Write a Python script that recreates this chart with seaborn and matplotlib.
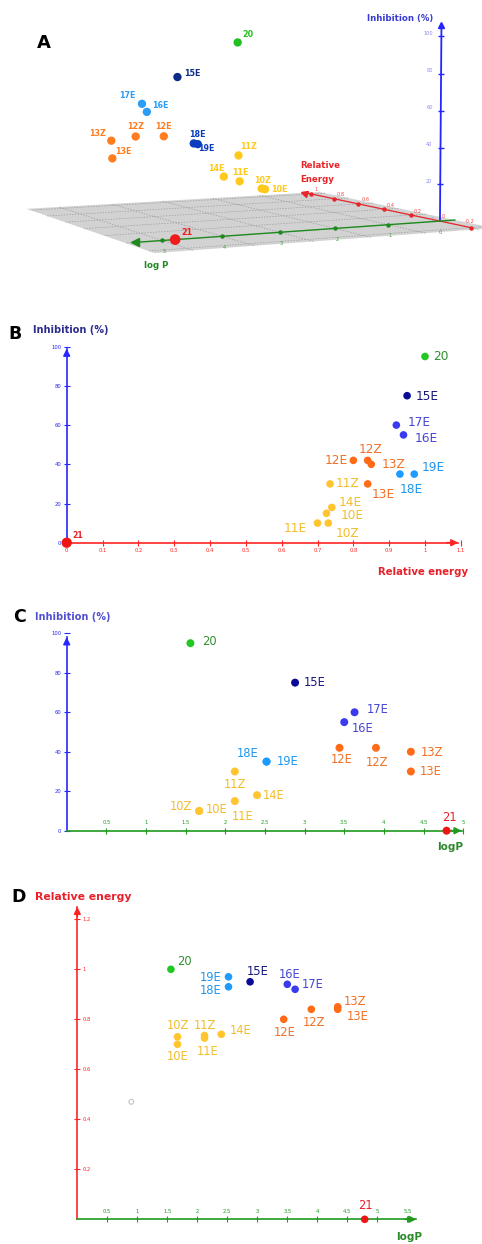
import numpy as np
import pandas as pd
import seaborn as sns
import matplotlib
matplotlib.use("Agg")
import matplotlib.pyplot as plt
from matplotlib.markers import MarkerStyle
from matplotlib.transforms import Affine2D
from mpl_toolkits.mplot3d import proj3d
from mpl_toolkits.mplot3d.art3d import Poly3DCollection

sns.set_theme(style="white")
plt.rcParams["font.family"] = ["DejaVu Sans"]

W, H = 482, 1244

# ---- data ----
compounds = ["10E", "10Z", "11E", "11Z", "12E", "12Z", "13E", "13Z", "14E",
             "15E", "16E", "17E", "18E", "19E", "20", "21"]
log_p = [1.67, 1.67, 2.12, 2.12, 3.44, 3.90, 4.34, 4.34, 2.40,
         2.88, 3.50, 3.63, 2.52, 2.52, 1.56, 4.79]
rel_energy = [0.70, 0.73, 0.725, 0.735, 0.80, 0.84, 0.84, 0.85, 0.74,
              0.95, 0.94, 0.92, 0.93, 0.97, 1.00, 0.00]
inhibition = [10, 10, 15, 30, 42, 42, 30, 40, 18,
              75, 55, 60, 35, 35, 95, 0]
# faint empty point visible in panel D
stray_logp = [0.9]
stray_energy = [0.47]

b_xticks = [0, 0.1, 0.2, 0.3, 0.4, 0.5, 0.6, 0.7, 0.8, 0.9, 1.0, 1.1]
b_xlabels = ["0", "0.1", "0.2", "0.3", "0.4", "0.5", "0.6", "0.7", "0.8", "0.9", "1", "1.1"]
inh_ticks = [0, 20, 40, 60, 80, 100]
inh_labels = ["0", "20", "40", "60", "80", "100"]
c_xticks = [0.5, 1, 1.5, 2, 2.5, 3, 3.5, 4, 4.5, 5]
c_xlabels = ["0.5", "1", "1.5", "2", "2.5", "3", "3.5", "4", "4.5", "5"]
d_xticks = [0.5, 1, 1.5, 2, 2.5, 3, 3.5, 4, 4.5, 5, 5.5]
d_xlabels = ["0.5", "1", "1.5", "2", "2.5", "3", "3.5", "4", "4.5", "5", "5.5"]
d_yticks = [0.2, 0.4, 0.6, 0.8, 1.0, 1.2]
d_ylabels = ["0.2", "0.4", "0.6", "0.8", "1", "1.2"]
re_ticks = [-0.2, 0.2, 0.4, 0.6, 0.8, 1.0]
re_labels = ["-0.2", "0.2", "0.4", "0.6", "0.8", "1"]
lp_ticks = [1, 2, 3, 4, 5]

df = pd.DataFrame({"compound": compounds, "logP": log_p,
                   "energy": rel_energy, "inhibition": inhibition})

# ---- colours ----
YEL, ORA, NAVY, BLUE, SKY, GRN, RED = ("#ffc42e", "#ff6b17", "#0a0a96", "#3a3aee",
                                        "#1e9bff", "#22c822", "#ee1515")
fam = {"10E": "y", "10Z": "y", "11E": "y", "11Z": "y", "14E": "y",
       "12E": "o", "12Z": "o", "13E": "o", "13Z": "o",
       "15E": "n", "16E": "b", "17E": "b", "18E": "s", "19E": "s",
       "20": "g", "21": "r"}
dot_c = {"y": YEL, "o": ORA, "n": NAVY, "b": BLUE, "s": SKY, "g": GRN, "r": RED}
txt_c = {"y": "#f2bd2c", "o": "#f07026", "n": "#16167e", "b": "#4646d2",
         "s": "#1e96ee", "g": "#2f8f2f", "r": "#e8202a"}
dot_3d = {"y": "#ffc81c", "o": "#ff7d1e", "n": "#0d2b85", "b": "#2c9cf5",
          "s": "#0b3cbf", "g": "#22c022", "r": "#ee1c1c"}
pal_2d = {c: dot_c[fam[c]] for c in compounds}
lab_2d = {c: txt_c[fam[c]] for c in compounds}
pal_3d = {c: dot_3d[fam[c]] for c in compounds}

fig = plt.figure(figsize=(W / 100, H / 100), dpi=100)


def px(x, y):
    return x / W, 1 - y / H


# ================= panel A (3D) =================
axA = fig.add_axes([0, 0, 400 / W, 400 / H], projection="3d",
                   proj_type="persp", focal_length=0.4, computed_zorder=False)
axA.set_xlim(-0.4, 1.1)
axA.set_ylim(-1.0, 6.2)
axA.set_zlim(-10, 120)
axA.set_axis_off()
axA.patch.set_alpha(0)

plane = Poly3DCollection([[(-0.25, -0.3, 0), (-0.25, 5.6, 0), (1.05, 5.6, 0), (1.05, -0.3, 0)]],
                         facecolor="#cbcbcb", edgecolor="none", alpha=0.85, zorder=1)
axA.add_collection3d(plane)
for g in range(0, 6):
    axA.plot([-0.25, 1.05], [g, g], [0, 0], ls=(0, (2, 2)), color="#9c9c9c", lw=0.5, zorder=2)
for g in np.arange(-0.2, 1.01, 0.2):
    axA.plot([g, g], [-0.3, 5.6], [0, 0], ls=(0, (2, 2)), color="#9c9c9c", lw=0.5, zorder=2)

A_BLUE, A_RED, A_GRN = "#2424ff", "#e8262a", "#1e8a1e"
axA.plot([0, 0], [0, 0], [0, 106], color=A_BLUE, lw=1.3, zorder=3)
axA.plot([0], [0], [106], marker="^", ms=5, color=A_BLUE, zorder=3)
axA.plot([-0.2, 1.06], [0, 0], [0, 0], color=A_RED, lw=0.9, zorder=3)
axA.plot([1.06], [0], [0], marker=MarkerStyle("<", transform=Affine2D().rotate_deg(-12)),
         ms=4.5, color=A_RED, zorder=3)
axA.plot([0, 0], [-0.3, 5.45], [0, 0], color=A_GRN, lw=1.0, zorder=3)
axA.plot([0], [5.45], [0], marker=MarkerStyle("<", transform=Affine2D().rotate_deg(4)),
         ms=6, color=A_GRN, zorder=3)

axA.plot(re_ticks, [0] * 6, [0] * 6, ls="none", marker="o", ms=2.2, color=A_RED, zorder=3)
axA.plot([0] * 5, lp_ticks, [0] * 5, ls="none", marker="o", ms=2.2, color=A_GRN, zorder=3)
axA.plot([0] * 5, [0] * 5, inh_ticks[1:], ls="none", marker="_", ms=4, mew=1, color=A_BLUE, zorder=3)

sizes_A = [59 if c == "21" else 36 for c in compounds]
axA.scatter(df["energy"], df["logP"], df["inhibition"], c=[pal_3d[c] for c in compounds],
            s=sizes_A, depthshade=False, edgecolor="none", zorder=4)

# ---- choose the camera so the three axes land where they sit in the picture ----
fig.canvas.draw()
ref3d = np.array([(0, 0, 0), (0, 1, 0), (0, 2, 0), (0, 3, 0), (0, 4, 0), (0, 5, 0),
                  (0.2, 0, 0), (0.4, 0, 0), (0.6, 0, 0), (0.8, 0, 0), (1.0, 0, 0), (-0.2, 0, 0),
                  (0, 0, 20), (0, 0, 40), (0, 0, 60), (0, 0, 80), (0, 0, 100)], float)
ref_px = np.array([(440, 220), (388.3, 224.3), (335, 228.3), (279.3, 232.3), (222.3, 236.7),
                   (162.3, 241.3), (411, 215), (384, 209.7), (358.3, 204), (334.3, 199),
                   (310.7, 194.3), (470, 226.7), (441, 184), (441, 147.7), (441, 111),
                   (441, 74), (441, 36)], float)
to_axes = axA.transData + axA.transAxes.inverted()


def fit_view(p):
    elev, azim, lf, s_re, s_lp = p
    axA.set_box_aspect((1.5 * 276 * s_re, 7.2 * 62.9 * s_lp, 130 * 1.857))
    axA.set_proj_type("persp", focal_length=float(np.exp(lf)))
    axA.view_init(elev=elev, azim=azim)
    rx, ry, _ = proj3d.proj_transform(ref3d[:, 0], ref3d[:, 1], ref3d[:, 2], axA.get_proj())
    u = to_axes.transform(np.column_stack([rx, ry]))
    n = len(u)
    Am = np.zeros((2 * n, 3))
    bm = np.zeros(2 * n)
    Am[:n, 0] = 1
    Am[:n, 2] = u[:, 0]
    bm[:n] = ref_px[:, 0]
    Am[n:, 1] = 1
    Am[n:, 2] = u[:, 1]
    bm[n:] = H - ref_px[:, 1]
    sol = np.linalg.lstsq(Am, bm, rcond=None)[0]
    err = np.sum((Am @ sol - bm) ** 2)
    return err, sol


params = np.array([7.0, 150.0, np.log(0.4), 1.0, 1.0])
steps = np.array([4.0, 6.0, 0.5, 0.15, 0.15])
best = fit_view(params)[0]
for _ in range(7):
    for _loop in range(40):
        moved = False
        for i in range(5):
            for sgn in (1, -1):
                trial = params.copy()
                trial[i] += sgn * steps[i]
                e = fit_view(trial)[0]
                if e < best:
                    best, params, moved = e, trial, True
        if not moved:
            break
    steps = steps / 2
_, (L, B, S) = fit_view(params)
axA.set_position([L / W, B / H, S / W, S / H])

M = axA.get_proj()


def ann3d(x, y, z, s, dx, dy, ha, color, size, weight="normal"):
    p, q, _ = proj3d.proj_transform(np.array([x]), np.array([y]), np.array([z]), M)
    axA.annotate(s, (p[0], q[0]), xytext=(dx, dy), textcoords="offset pixels", ha=ha,
                 va="center", color=color, fontsize=size, weight=weight, annotation_clip=False)


off_A = {"20": (5, 8, "left"), "15E": (7, 4, "left"), "17E": (-6, 8, "right"),
         "16E": (5, 6, "left"), "13Z": (-5, 7, "right"), "12Z": (0, 10, "center"),
         "12E": (0, 10, "center"), "13E": (3, 7, "left"), "18E": (0, 10, "center"),
         "19E": (4, -5, "left"), "11Z": (2, 9, "left"), "14E": (1, 8, "right"),
         "11E": (1, 9, "center"), "10Z": (1, 8, "center"), "10E": (6, 0, "left"),
         "21": (6, 7, "left")}
for c, xe, yl, zi in zip(compounds, rel_energy, log_p, inhibition):
    dx, dy, ha = off_A[c]
    ann3d(xe, yl, zi, c, dx, dy, ha, pal_3d[c], 5.8, "bold")

for t, s in zip(re_ticks, re_labels):
    if t < 0:
        ann3d(t, 0, 0, s, -1, 6, "center", "#f04848", 3.6)
    else:
        ann3d(t, 0, 0, s, 3, 4, "left", "#f04848", 3.6)
for t in lp_ticks:
    ann3d(0, t, 0, str(t), 2, -11, "center", "#3aa03a", 3.6)
for t, s in zip(inh_ticks[1:], inh_labels[1:]):
    ann3d(0, 0, t, s, -8, 3, "right", "#8a8af0", 3.6)
ann3d(0, 0, 0, "0", 0, -11, "center", "#3aa03a", 3.6)
ann3d(0, 0, 0, "0", 2, 5, "left", "#f04848", 3.6)
ann3d(0, 0, 0, "0", -6, 2, "right", "#8a8af0", 3.6)

fig.text(*px(44, 43), "A", fontsize=13, weight="bold", ha="center", va="center", color="black")
fig.text(*px(400, 19), "Inhibition (%)", fontsize=6.2, weight="bold", ha="center", va="center",
         color="#3a3ad6")
fig.text(*px(300, 166), "Relative", fontsize=6.2, weight="bold", ha="left", va="center", color=A_RED)
fig.text(*px(300, 180), "Energy", fontsize=6.2, weight="bold", ha="left", va="center", color=A_RED)
fig.text(*px(156, 266), "log P", fontsize=6.2, weight="bold", ha="center", va="center", color=A_GRN)


# ================= 2D panels =================
def fig_rect(x0, y0, sx, sy, xlim, ylim):
    left = x0 + sx * xlim[0]
    right = x0 + sx * xlim[1]
    top = y0 - sy * ylim[1]
    bottom = y0 - sy * ylim[0]
    return [left / W, 1 - bottom / H, (right - left) / W, (bottom - top) / H]


def panel_2d(origin, scale, xlim, ylim, xcol, ycol, xc, yc, xticks, xlabels, yticks, ylabels,
             xtip, ytip, x_top, y_right, sizes):
    ax = fig.add_axes(fig_rect(origin[0], origin[1], scale[0], scale[1], xlim, ylim))
    ax.patch.set_alpha(0)
    sns.scatterplot(data=df, x=xcol, y=ycol, hue="compound", palette=pal_2d, size="compound",
                    sizes=sizes, legend=False, edgecolor="none", linewidth=0, ax=ax,
                    zorder=5, clip_on=False)
    ax.set_xlim(xlim)
    ax.set_ylim(ylim)
    ax.set_xlabel("")
    ax.set_ylabel("")
    for sp in ax.spines.values():
        sp.set_visible(False)
    xs = "top" if x_top else "bottom"
    ys = "right" if y_right else "left"
    for name, col, hi in ((xs, xc, xtip), (ys, yc, ytip)):
        sp = ax.spines[name]
        sp.set_visible(True)
        sp.set_position(("data", 0))
        sp.set_bounds(0, hi)
        sp.set_color(col)
        sp.set_linewidth(1.2)
    ax.xaxis.set_ticks_position(xs)
    ax.yaxis.set_ticks_position(ys)
    ax.set_xticks(xticks, xlabels)
    ax.set_yticks(yticks, ylabels)
    ax.tick_params(axis="x", direction="inout", length=4, width=0.8, colors=xc, labelsize=3.8, pad=2)
    ax.tick_params(axis="y", direction="inout", length=4, width=0.8, colors=yc, labelsize=3.8, pad=2)
    ax.grid(False)
    dxr = 0.025 * (xlim[1] - xlim[0])
    dyr = 0.03 * (ylim[1] - ylim[0])
    ax.annotate("", xy=(xtip, 0), xytext=(xtip - dxr, 0), annotation_clip=False,
                arrowprops=dict(arrowstyle="-|>", color=xc, lw=1.2, mutation_scale=10,
                                shrinkA=0, shrinkB=0))
    ax.annotate("", xy=(0, ytip), xytext=(0, ytip - dyr), annotation_clip=False,
                arrowprops=dict(arrowstyle="-|>", color=yc, lw=1.2, mutation_scale=10,
                                shrinkA=0, shrinkB=0))
    return ax


def label_points(ax, xcol, ycol, offsets, size, small21=None):
    for c, x, y in zip(df["compound"], df[xcol], df[ycol]):
        dx, dy, ha = offsets[c]
        fs, wt = size, "normal"
        if c == "21" and small21:
            fs, wt = small21, "bold"
        ax.annotate(c, (x, y), xytext=(dx, dy), textcoords="offset pixels", ha=ha, va="center",
                    color=lab_2d[c], fontsize=fs, weight=wt, annotation_clip=False)


# ---- B ----
sizes_B = {c: (55 if c == "21" else 30) for c in compounds}
axB = panel_2d((66.7, 542.7), (358.3, 1.96), (-0.15, 1.15), (-12, 102), "energy", "inhibition",
               "#ff2424", "#2626ff", b_xticks, b_xlabels, inh_ticks, inh_labels,
               1.093, 99, False, False, sizes_B)
off_B = {"20": (8, 0, "left"), "15E": (9, -1, "left"), "17E": (11, 3, "left"),
         "16E": (11, -4, "left"), "12Z": (3, 11, "center"), "12E": (-6, 0, "right"),
         "13Z": (10, 0, "left"), "19E": (7, 7, "left"), "18E": (0, -15, "left"),
         "11Z": (6, 0, "left"), "13E": (4, -11, "left"), "14E": (7, 5, "left"),
         "10E": (23, 8, "left"), "11E": (-20, -15, "right"), "10Z": (7, -10, "left"),
         "21": (6, 7, "left")}
label_points(axB, "energy", "inhibition", off_B, 8.7, small21=5.6)
fig.text(*px(15, 334), "B", fontsize=12.5, weight="bold", ha="center", va="center", color="black")
fig.text(*px(33, 330), "Inhibition (%)", fontsize=7, weight="bold", ha="left", va="center",
         color="#2c2c8c")
fig.text(*px(468, 572), "Relative energy", fontsize=7.3, weight="bold", ha="right", va="center",
         color="#e8202a")

# ---- C ----
sizes_C = {c: 33 for c in compounds}
axC = panel_2d((66.7, 830.7), (79.3, 1.974), (-0.6, 5.1), (-10, 102), "logP", "inhibition",
               "#1f9a1f", "#2626ff", c_xticks, c_xlabels, inh_ticks, inh_labels,
               4.98, 98, True, False, sizes_C)
off_C = {"20": (12, 2, "left"), "15E": (9, 0, "left"), "17E": (12, 3, "left"),
         "16E": (8, -6, "left"), "12E": (2, -12, "center"), "12Z": (1, -15, "center"),
         "13Z": (10, -1, "left"), "13E": (9, 0, "left"), "18E": (-8, 8, "right"),
         "19E": (10, 0, "left"), "11Z": (0, -13, "center"), "14E": (6, 0, "left"),
         "11E": (-3, -15, "left"), "10Z": (-7, 4, "right"), "10E": (7, 1, "left"),
         "21": (3, 13, "center")}
label_points(axC, "logP", "inhibition", off_C, 8.3)
fig.text(*px(19, 617.5), "C", fontsize=12.5, weight="bold", ha="center", va="center", color="black")
fig.text(*px(35, 617), "Inhibition (%)", fontsize=7, weight="bold", ha="left", va="center",
         color="#5050d0")
fig.text(*px(450.5, 847), "logP", fontsize=7.5, weight="bold", ha="center", va="center",
         color="#2a8a2a")

# ---- D ----
sizes_D = {c: 30 for c in compounds}
axD = panel_2d((77.3, 1219.3), (60, 250), (-1.0, 6.6), (-0.08, 1.27), "logP", "energy",
               "#1f9a1f", "#ff2424", d_xticks, d_xlabels, d_yticks, d_ylabels,
               5.65, 1.25, True, True, sizes_D)
axD.scatter(stray_logp, stray_energy, s=12, facecolor="none", edgecolor="#c4c4c4",
            linewidth=0.8, zorder=4)
off_D = {"20": (6, 8, "left"), "19E": (-7, -1, "right"), "18E": (-7, -4, "right"),
         "15E": (8, 10, "center"), "16E": (2, 10, "center"), "17E": (7, 5, "left"),
         "13Z": (6, 5, "left"), "13E": (9, -7, "left"), "12Z": (3, -13, "center"),
         "12E": (1, -13, "center"), "10Z": (0, 11, "center"), "11Z": (0, 10, "center"),
         "14E": (8, 4, "left"), "10E": (0, -12, "center"), "11E": (3, -13, "center"),
         "21": (1, 14, "center")}
label_points(axD, "logP", "energy", off_D, 8.3)
fig.text(*px(19, 897), "D", fontsize=12.5, weight="bold", ha="center", va="center", color="black")
fig.text(*px(35, 897), "Relative energy", fontsize=7.8, weight="bold", ha="left", va="center",
         color="#e8202a")
fig.text(*px(409, 1237), "logP", fontsize=7.5, weight="bold", ha="center", va="center",
         color="#2a8a2a")

fig.savefig("out.png", dpi=100)
